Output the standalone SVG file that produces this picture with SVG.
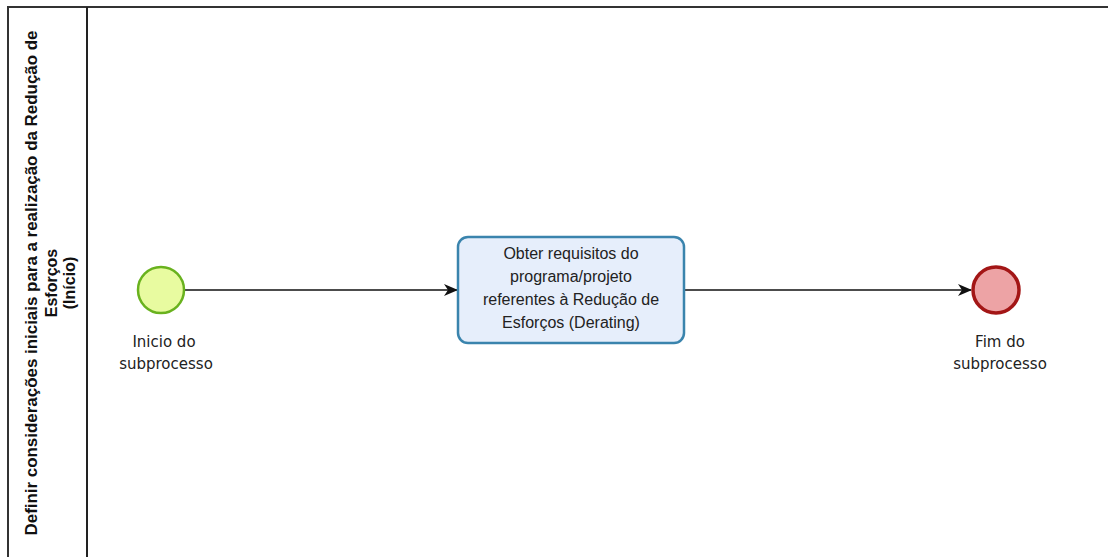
<svg xmlns="http://www.w3.org/2000/svg" width="1108" height="557" viewBox="0 0 1108 557">
<style>
.lbl{font-family:"DejaVu Sans",Verdana,sans-serif;font-size:15px;fill:#222;text-anchor:middle}
.task{font-family:"Liberation Sans",Arial,sans-serif;font-size:16px;fill:#222;text-anchor:middle}
.lane{font-family:"Liberation Sans",Arial,sans-serif;font-size:16px;font-weight:bold;fill:#111;text-anchor:middle}
.edge{stroke:#111;stroke-width:1.3;fill:none}
</style>
<defs>
<marker id="arr" viewBox="0 0 14 12" refX="13" refY="6" markerWidth="14" markerHeight="12" markerUnits="userSpaceOnUse" orient="auto">
<path d="M0,0 L14,6 L0,12 L4,6 Z" fill="#111"/>
</marker>
</defs>
<rect width="1108" height="557" fill="#fff"/>
<g id="pool">
<path d="M8,557 L8,7 L1108,7" fill="none" stroke="#333" stroke-width="2"/>
<line x1="87" y1="7" x2="87" y2="557" stroke="#222" stroke-width="2"/>
<text class="lane" transform="translate(45,283) rotate(-90)"><tspan x="0" y="-8" textLength="505" lengthAdjust="spacingAndGlyphs">Definir considerações iniciais para a realização da Redução de</tspan><tspan x="0" y="12">Esforços</tspan><tspan x="0" y="30">(Início)</tspan></text>
</g>
<g id="connectors">
<line class="edge" x1="185" y1="290" x2="457" y2="290" marker-end="url(#arr)"/>
<line class="edge" x1="685" y1="290" x2="971" y2="290" marker-end="url(#arr)"/>
</g>
<g id="start">
<circle cx="161" cy="290" r="23" fill="#e8fba0" stroke="#69b21e" stroke-width="2.5"/>
<text class="lbl" x="164" y="347">Inicio do</text>
<text class="lbl" x="166" y="369">subprocesso</text>
</g>
<g id="task">
<rect x="458" y="237" width="226" height="106" rx="10" fill="#e6eefb" stroke="#3a84ad" stroke-width="2.5"/>
<text class="task" x="571" y="259">Obter requisitos do</text>
<text class="task" x="571" y="282">programa/projeto</text>
<text class="task" x="571" y="305">referentes à Redução de</text>
<text class="task" x="571" y="328">Esforços (Derating)</text>
</g>
<g id="end">
<circle cx="996" cy="290" r="23" fill="#eda3a5" stroke="#a31616" stroke-width="3.5"/>
<text class="lbl" x="1000" y="347">Fim do</text>
<text class="lbl" x="1000" y="369">subprocesso</text>
</g>
</svg>
